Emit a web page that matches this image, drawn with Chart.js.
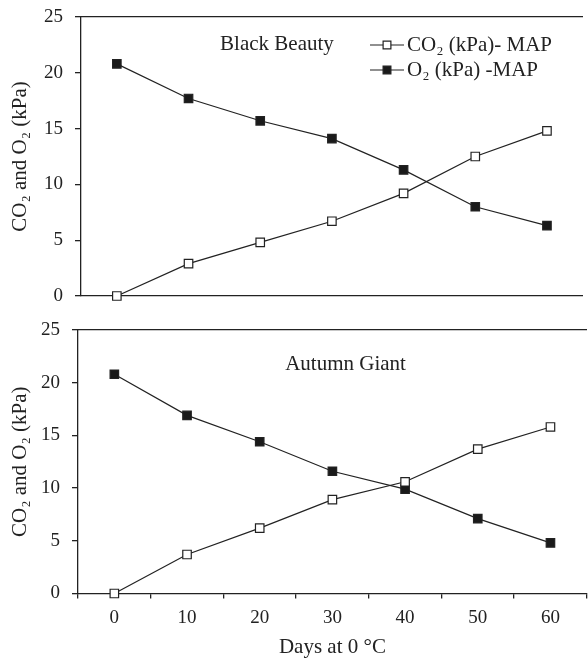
<!DOCTYPE html>
<html>
<head>
<meta charset="utf-8">
<script src="https://cdn.jsdelivr.net/npm/chart.js@4/dist/chart.umd.min.js"></script>
<style>
  html, body { margin: 0; padding: 0; background: #fff; overflow: hidden; }
  #wrap { position: relative; width: 588px; height: 660px; overflow: hidden; }
  canvas { position: absolute; left: 0; }
</style>
</head>
<body>
<div id="wrap">
  <canvas id="topChart" width="590" height="310" style="top:0"></canvas>
  <canvas id="bottomChart" width="594" height="350" style="top:310px"></canvas>
</div>
<script>
// data
const days = [0, 10, 20, 30, 40, 50, 60];
const dayTicks = [0, 10, 20, 30, 40, 50, 60];
const kpaTicks = [0, 5, 10, 15, 20, 25];
const co2BlackBeauty = [0, 2.9, 4.8, 6.7, 9.2, 12.5, 14.8];
const o2BlackBeauty = [20.8, 17.7, 15.7, 14.1, 11.3, 8.0, 6.3];
const co2AutumnGiant = [0, 3.7, 6.2, 8.9, 10.6, 13.7, 15.8];
const o2AutumnGiant = [20.8, 16.9, 14.4, 11.6, 9.9, 7.1, 4.8];
const seriesNames = ['CO₂ (kPa)- MAP', 'O₂ (kPa) -MAP'];

const ink = '#222';
const serif = '"Liberation Serif", "Times New Roman", serif';
const tickFont = { family: serif, size: 19 };
const titleFont = { family: serif, size: 21 };

function makeSet(label, values, fill) {
  return {
    label: label,
    data: days.map((d, i) => ({ x: d, y: values[i] })),
    borderColor: ink,
    borderWidth: 1.2,
    pointStyle: 'rect',
    pointRadius: 6,
    pointHoverRadius: 6,
    pointBackgroundColor: fill,
    pointBorderColor: ink,
    pointBorderWidth: 1.2,
    tension: 0,
    clip: false
  };
}

// text inside the plot (cultivar name)
const panelLabel = {
  id: 'panelLabel',
  afterDraw(chart, args, opts) {
    const ctx = chart.ctx;
    ctx.save();
    ctx.font = opts.size + 'px ' + serif;
    ctx.fillStyle = ink;
    ctx.textBaseline = 'middle';
    ctx.fillText(opts.text, chart.scales.x.getPixelForValue(opts.x), chart.scales.y.getPixelForValue(opts.y));
    ctx.restore();
  }
};

// legend with line + marker sample
const lineLegend = {
  id: 'lineLegend',
  afterDraw(chart, args, opts) {
    if (!opts.show) return;
    const ctx = chart.ctx;
    const area = chart.chartArea;
    ctx.save();
    ctx.font = opts.size + 'px ' + serif;
    ctx.textBaseline = 'middle';
    chart.data.datasets.forEach((ds, i) => {
      const x0 = area.left + opts.left;
      const y = area.top + opts.top + i * opts.rowGap;
      ctx.strokeStyle = ds.borderColor;
      ctx.lineWidth = ds.borderWidth;
      ctx.beginPath();
      ctx.moveTo(x0, y);
      ctx.lineTo(x0 + opts.lineLen, y);
      ctx.stroke();
      ctx.fillStyle = ds.pointBackgroundColor;
      ctx.strokeStyle = ds.pointBorderColor;
      ctx.lineWidth = ds.pointBorderWidth;
      Chart.helpers.drawPoint(ctx, { pointStyle: 'rect', radius: opts.markRadius, borderWidth: ds.pointBorderWidth }, x0 + opts.lineLen / 2, y);
      ctx.fillStyle = ink;
      ctx.fillText(ds.label, x0 + opts.lineLen + 3, y);
    });
    ctx.restore();
  }
};

function makeChart(id, co2, o2, cfg) {
  const axisLine = { display: true, color: ink, width: 1.3 };
  const xAxis = {
    type: 'linear', min: -5, max: 65, position: 'bottom',
    afterFit: s => { s.height = cfg.xHeight; s.paddingLeft = 0; s.paddingRight = 0; },
    border: axisLine
  };
  if (cfg.showX) {
    xAxis.afterBuildTicks = s => { s.ticks = dayTicks.map(v => ({ value: v })); };
    xAxis.grid = { offset: true, drawOnChartArea: false, tickLength: 5, color: ink, lineWidth: 1.3 };
    xAxis.ticks = { color: ink, font: tickFont, padding: 8, maxRotation: 0 };
    xAxis.title = { display: true, text: 'Days at 0 °C', color: ink, font: titleFont, padding: { top: 0, bottom: 0 } };
  } else {
    xAxis.grid = { display: false };
    xAxis.ticks = { display: false };
  }

  return new Chart(document.getElementById(id), {
    type: 'line',
    data: {
      datasets: [makeSet(seriesNames[0], co2, '#fff'), makeSet(seriesNames[1], o2, '#1a1a1a')]
    },
    options: {
      responsive: false,
      animation: false,
      layout: { padding: cfg.padding },
      scales: {
        x: xAxis,
        xTop: {
          type: 'linear', min: -5, max: 65, position: 'top',
          afterFit: s => { s.height = 0; },
          grid: { display: false },
          ticks: { display: false },
          border: axisLine
        },
        y: {
          min: 0, max: 25,
          afterBuildTicks: s => { s.ticks = kpaTicks.map(v => ({ value: v })); },
          afterFit: s => { s.width = cfg.yWidth; s.paddingTop = 0; s.paddingBottom = 0; },
          border: axisLine,
          grid: { drawOnChartArea: false, tickLength: 6, color: ink, lineWidth: 1.3 },
          ticks: { color: ink, font: tickFont, padding: 12 },
          title: { display: true, text: 'CO₂ and O₂ (kPa)', color: ink, font: titleFont, padding: { top: 8, bottom: 0 } }
        }
      },
      plugins: {
        legend: { display: false },
        tooltip: { enabled: false },
        panelLabel: cfg.label,
        lineLegend: cfg.legend
      }
    },
    plugins: [panelLabel, lineLegend]
  });
}

makeChart('topChart', co2BlackBeauty, o2BlackBeauty, {
  padding: { top: 17, bottom: 14, left: 0, right: 0 },
  xHeight: 0, yWidth: 81, showX: false,
  label: { text: 'Black Beauty', x: 14.4, y: 22.5, size: 21 },
  legend: { show: true, left: 289, top: 28, rowGap: 25, lineLen: 34, markRadius: 5.5, size: 21 }
});

makeChart('bottomChart', co2AutumnGiant, o2AutumnGiant, {
  padding: { top: 20, bottom: 0, left: 0, right: 0 },
  xHeight: 66.5, yWidth: 78, showX: true,
  label: { text: 'Autumn Giant', x: 23.5, y: 21.7, size: 21 },
  legend: { show: false }
});
</script>
</body>
</html>
